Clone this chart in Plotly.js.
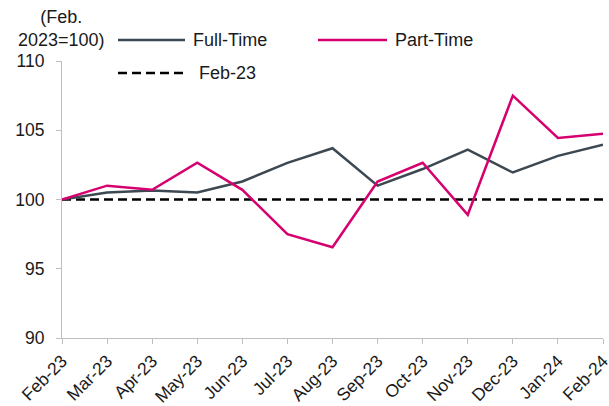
<!DOCTYPE html>
<html>
<head>
<meta charset="utf-8">
<script src="https://cdn.plot.ly/plotly-3.0.1.min.js"></script>
<style>html,body{margin:0;padding:0;background:#fff;}#chart{width:609px;height:406px;}</style>
</head>
<body>
<div id="chart"></div>
<script>
const months = ["Feb-23","Mar-23","Apr-23","May-23","Jun-23","Jul-23","Aug-23","Sep-23","Oct-23","Nov-23","Dec-23","Jan-24","Feb-24"];
const fullTime = [100, 100.5, 100.65, 100.5, 101.3, 102.65, 103.7, 101.0, 102.2, 103.6, 101.95, 103.15, 103.95];
const partTime = [100, 101.0, 100.7, 102.65, 100.7, 97.5, 96.55, 101.3, 102.65, 98.9, 107.5, 104.45, 104.75];
const baseline = months.map(() => 100);
const yTicks = [90, 95, 100, 105, 110];

const W = 609, H = 406, L = 62, R = 6, T = 61, B = 68;
const pw = W - L - R, ph = H - T - B;
const px = x => (x - L) / pw;
const py = y => (H - B - y) / ph;

const FULL = '#3c4852', PART = '#d6006f', DASH = '#000000';
const font = {family: 'Liberation Sans, Arial, sans-serif', size: 18, color: '#1a1a1a'};
const tickFont = {family: 'Liberation Sans, Arial, sans-serif', size: 17.5, color: '#1a1a1a'};

const traces = [
  {x: months, y: baseline, mode: 'lines', name: 'Feb-23', line: {color: DASH, width: 2.5, dash: '9px,5px'}},
  {x: months, y: fullTime, mode: 'lines', name: 'Full-Time', line: {color: FULL, width: 2.5}},
  {x: months, y: partTime, mode: 'lines', name: 'Part-Time', line: {color: PART, width: 2.5}}
];

const shapes = [
  {type: 'line', xref: 'paper', yref: 'paper', x0: px(118), x1: px(185), y0: py(40), y1: py(40), line: {color: FULL, width: 2.5}},
  {type: 'line', xref: 'paper', yref: 'paper', x0: px(318), x1: px(387), y0: py(40), y1: py(40), line: {color: PART, width: 2.5}},
  {type: 'line', xref: 'paper', yref: 'paper', x0: px(118), x1: px(185), y0: py(73), y1: py(73), line: {color: DASH, width: 2.5, dash: '9px,5px'}}
];

const annotations = [
  {xref: 'paper', yref: 'paper', x: px(191), y: py(40), xanchor: 'left', yanchor: 'middle', text: 'Full-Time', showarrow: false, font: font},
  {xref: 'paper', yref: 'paper', x: px(393), y: py(40), xanchor: 'left', yanchor: 'middle', text: 'Part-Time', showarrow: false, font: font},
  {xref: 'paper', yref: 'paper', x: px(197), y: py(73), xanchor: 'left', yanchor: 'middle', text: 'Feb-23', showarrow: false, font: font},
  {xref: 'paper', yref: 'paper', x: px(61), y: py(29), xanchor: 'center', yanchor: 'middle', text: '(Feb.<br>2023=100)', showarrow: false, font: font, align: 'center'}
];

const layout = {
  width: W, height: H,
  margin: {l: L, r: R, t: T, b: B, pad: 0},
  paper_bgcolor: '#ffffff', plot_bgcolor: '#ffffff',
  font: font,
  showlegend: false,
  xaxis: {
    type: 'category', range: [0, months.length - 1],
    showgrid: false, zeroline: false,
    showline: true, linecolor: '#bfbfbf', linewidth: 1,
    ticks: 'outside', ticklen: 5, tickcolor: '#bfbfbf',
    tickangle: -45, tickfont: tickFont
  },
  yaxis: {
    range: [90, 110], tickvals: yTicks, ticktext: yTicks.map(String),
    showgrid: false, zeroline: false,
    showline: true, linecolor: '#bfbfbf', linewidth: 1,
    ticks: 'outside', ticklen: 5, tickcolor: '#bfbfbf',
    ticklabelstandoff: 8,
    tickfont: tickFont
  },
  shapes: shapes,
  annotations: annotations
};

Plotly.newPlot('chart', traces, layout, {displayModeBar: false, staticPlot: true});
</script>
</body>
</html>
